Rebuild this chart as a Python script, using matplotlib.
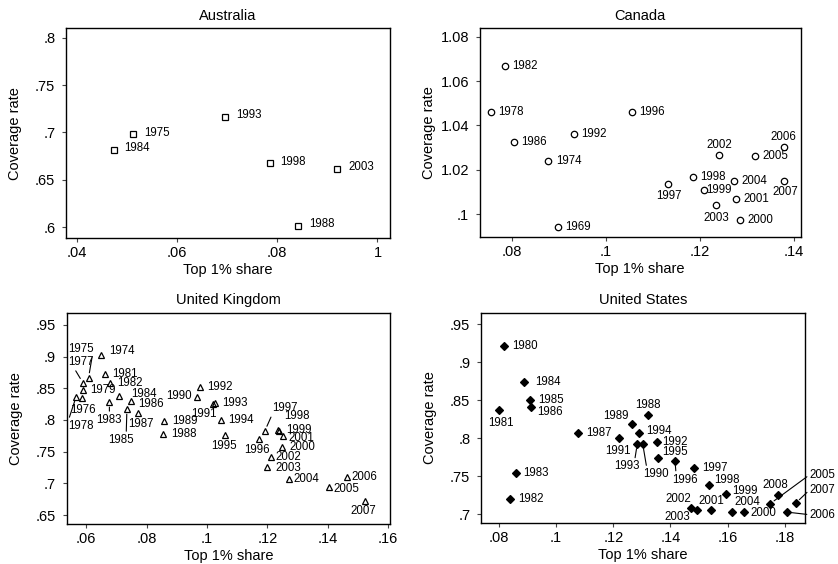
import matplotlib
matplotlib.use("Agg")
import matplotlib.pyplot as plt

plt.rcParams['font.family'] = ['Liberation Sans', 'DejaVu Sans']

# ---------------- data ----------------
aus_years = [1975, 1984, 1988, 1993, 1998, 2003]
aus_top1 = [0.0513, 0.0474, 0.0842, 0.0697, 0.0785, 0.0920]
aus_cov = [0.698, 0.682, 0.6017, 0.7167, 0.6675, 0.6615]

can_years = [1969, 1974, 1978, 1982, 1986, 1992, 1996, 1997, 1998, 1999,
             2000, 2001, 2002, 2003, 2004, 2005, 2006, 2007]
can_top1 = [0.0897, 0.0877, 0.0754, 0.0785, 0.0804, 0.0931, 0.1054, 0.1132, 0.1184, 0.1208,
            0.1284, 0.1277, 0.1241, 0.1234, 0.1272, 0.1317, 0.1378, 0.1379]
can_cov = [0.9944, 1.0240, 1.0461, 1.0669, 1.0326, 1.0360, 1.0461, 1.0138, 1.0168, 1.0110,
           0.9976, 1.0068, 1.0266, 1.0040, 1.0150, 1.0264, 1.0303, 1.0149]

uk_years = [1974, 1975, 1976, 1977, 1978, 1979, 1981, 1982, 1983, 1984, 1985, 1986, 1987,
            1988, 1989, 1990, 1991, 1992, 1993, 1994, 1995, 1996, 1997, 1998, 1999,
            2000, 2001, 2002, 2003, 2004, 2005, 2006, 2007]
uk_top1 = [0.0649, 0.0608, 0.0586, 0.0589, 0.0567, 0.0589, 0.0661, 0.0679, 0.0677, 0.0709,
           0.0735, 0.0748, 0.0771, 0.0856, 0.0858, 0.0968, 0.1021, 0.0977, 0.1025, 0.1046,
           0.1060, 0.1173, 0.1192, 0.1234, 0.1238, 0.1249, 0.1253, 0.1211, 0.1198, 0.1273,
           0.1404, 0.1462, 0.1523]
uk_cov = [0.9026, 0.8670, 0.8340, 0.8590, 0.8368, 0.8474, 0.8720, 0.8585, 0.8280, 0.8379,
          0.8169, 0.8305, 0.8106, 0.7774, 0.7984, 0.8368, 0.8255, 0.8526, 0.8265, 0.8000,
          0.7763, 0.7700, 0.7831, 0.7835, 0.7825, 0.7569, 0.7747, 0.7411, 0.7263, 0.7064,
          0.6937, 0.7095, 0.6726]

us_years = [1980, 1981, 1982, 1983, 1984, 1985, 1986, 1987, 1988, 1989, 1990, 1991, 1992,
            1993, 1994, 1995, 1996, 1997, 1998, 1999, 2000, 2001, 2002, 2003, 2004, 2005,
            2006, 2007, 2008]
us_top1 = [0.0818, 0.0801, 0.0840, 0.0858, 0.0889, 0.0910, 0.0913, 0.1077, 0.1320, 0.1264,
           0.1303, 0.1220, 0.1353, 0.1284, 0.1290, 0.1356, 0.1416, 0.1483, 0.1535, 0.1595,
           0.1659, 0.1543, 0.1471, 0.1494, 0.1614, 0.1749, 0.1807, 0.1839, 0.1775]
us_cov = [0.9218, 0.8376, 0.7197, 0.7547, 0.8745, 0.8504, 0.8416, 0.8066, 0.8307, 0.8186,
          0.7925, 0.8008, 0.7947, 0.7925, 0.8068, 0.7732, 0.7705, 0.7610, 0.7380, 0.7260,
          0.7026, 0.7047, 0.7080, 0.7057, 0.7026, 0.7136, 0.7026, 0.7145, 0.7254]

aus_xticks = [0.04, 0.06, 0.08, 0.10]
aus_xticklabels = ['.04', '.06', '.08', '1']
aus_yticks = [0.60, 0.65, 0.70, 0.75, 0.80]
aus_yticklabels = ['.6', '.65', '.7', '.75', '.8']

can_xticks = [0.08, 0.10, 0.12, 0.14]
can_xticklabels = ['.08', '.1', '.12', '.14']
can_yticks = [1.00, 1.02, 1.04, 1.06, 1.08]
can_yticklabels = ['.1', '1.02', '1.04', '1.06', '1.08']

uk_xticks = [0.06, 0.08, 0.10, 0.12, 0.14, 0.16]
uk_xticklabels = ['.06', '.08', '.1', '.12', '.14', '.16']
uk_yticks = [0.65, 0.70, 0.75, 0.80, 0.85, 0.90, 0.95]
uk_yticklabels = ['.65', '.7', '.75', '.8', '.85', '.9', '.95']

us_xticks = [0.08, 0.10, 0.12, 0.14, 0.16, 0.18]
us_xticklabels = ['.08', '.1', '.12', '.14', '.16', '.18']
us_yticks = [0.70, 0.75, 0.80, 0.85, 0.90, 0.95]
us_yticklabels = ['.7', '.75', '.8', '.85', '.9', '.95']

# ---------------- label placement (style) ----------------
# ('L', gap, dy) left aligned to the right of marker; ('R', gap, dy) to the left;
# ('C', dx, dy) centred at offset; optional 4th element: relpos for a leader line
aus_lab = {}
aus_default = ('L', 7.9, 1.2)

can_lab = {
    1997: ('C', 0.4, -8.9), 2002: ('C', 0.2, 7.4), 2003: ('C', 0.4, -9.4),
    2006: ('C', 0.0, 7.4), 2007: ('C', 0.7, -7.9), 1999: ('L', 1.8, 0.0),
}
can_default = ('L', 5.4, 0.0)

uk_lab = {
    1974: ('L', 6.2, 2.9),
    1975: ('C', -5.8, 20.7, (1.0, 0.4)),
    1977: ('C', -1.7, 14.8, (0.25, 0.0)),
    1978: ('C', 3.1, -21.1, (0.03, 1.0)),
    1976: ('C', 1.0, -8.4),
    1983: ('C', 0.0, -12.7, (0.5, 1.0)),
    1985: ('C', -4.2, -22.1, (0.7, 1.0)),
    1987: ('C', 2.2, -7.9),
    1984: ('L', 8.9, 1.4),
    1986: ('L', 5.5, -2.4),
    1990: ('R', 4.0, 0.5),
    1991: ('C', -6.5, -7.2),
    1995: ('C', -0.7, -7.9),
    1996: ('C', -1.4, -7.9),
    1997: ('C', 14.4, 16.1, (0.0, 0.0)),
    1998: ('C', 13.7, 10.1),
    1999: ('L', 5.0, 1.0),
    2001: ('L', 3.6, -1.7),
    2002: ('L', 3.1, 0.0),
    2003: ('L', 6.0, -1.2),
    2004: ('L', 2.9, 0.0),
    2005: ('L', 3.1, -1.4),
    2006: ('L', 3.6, 0.4),
    2007: ('C', -0.9, -7.2),
}
uk_default = ('L', 5.5, 0.0)

us_lab = {
    1981: ('C', 0.9, -9.4),
    1984: ('L', 7.9, 0.0),
    1986: ('L', 4.3, -4.0),
    1988: ('C', 0.4, 7.2),
    1989: ('C', -11.1, 6.0),
    1991: ('C', -1.1, -9.4),
    1993: ('C', -7.4, -16.3, (0.8, 1.0)),
    1990: ('C', 9.4, -21.8, (0.15, 1.0)),
    1992: ('L', 3.4, 0.0),
    1994: ('L', 5.3, 1.2),
    1995: ('L', 3.4, 4.5),
    1996: ('C', 7.2, -13.7, (0.15, 1.0)),
    1998: ('L', 3.8, 3.4),
    1999: ('L', 4.0, 2.6),
    2002: ('C', -8.9, 6.7),
    2003: ('C', -14.5, -5.3),
    2001: ('C', 0.0, 6.5),
    2004: ('C', 11.2, 7.2),
    2000: ('L', 4.1, -0.7),
    2008: ('C', -1.9, 7.2),
    2005: ('C', 37.8, 20.9, (0.0, 0.5)),
    2007: ('C', 19.3, 9.6, (0.0, 0.5)),
    2006: ('C', 25.8, -1.9, (0.0, 0.5)),
}
us_default = ('L', 5.5, 0.0)

LABEL_FS = 8.3
AX_FS = 10.5

fig = plt.figure(figsize=(8.38, 5.64), dpi=100)
fig.patch.set_facecolor('white')


def panel(rect, title, xs, ys, years, marker, ms, filled, xlim, ylim,
          xticks, xtl, yticks, ytl, labs, default):
    ax = fig.add_axes(rect)
    ax.plot(xs, ys, linestyle='none', marker=marker, markersize=ms,
            markerfacecolor='black' if filled else 'none',
            markeredgecolor='black', markeredgewidth=0.9, zorder=3)
    for x, y, yr in zip(xs, ys, years):
        spec = labs.get(yr, default)
        kind, a, b = spec[0], spec[1], spec[2]
        if kind == 'L':
            off, ha = (a, b), 'left'
        elif kind == 'R':
            off, ha = (-a, b), 'right'
        else:
            off, ha = (a, b), 'center'
        kw = {}
        if len(spec) > 3:
            kw['arrowprops'] = dict(arrowstyle='-', lw=0.8, color='black',
                                    shrinkA=0, shrinkB=3.5, relpos=spec[3])
        ax.annotate(str(yr), (x, y), xytext=off, textcoords='offset points',
                    ha=ha, va='center', fontsize=LABEL_FS, annotation_clip=False,
                    **kw)
    ax.set_xlim(*xlim)
    ax.set_ylim(*ylim)
    ax.set_xticks(xticks)
    ax.set_xticklabels(xtl)
    ax.set_yticks(yticks)
    ax.set_yticklabels(ytl)
    ax.tick_params(axis='both', direction='out', length=3.2, width=0.8,
                   labelsize=AX_FS, color='#444444')
    ax.tick_params(axis='x', pad=2.5)
    ax.tick_params(axis='y', pad=4.5)
    for s in ax.spines.values():
        s.set_linewidth(1.0)
        s.set_color('black')
    ax.set_title(title, fontsize=AX_FS, pad=6)
    ax.set_xlabel('Top 1% share', fontsize=AX_FS, labelpad=2)
    ax.set_ylabel('Coverage rate', fontsize=AX_FS)
    ax.yaxis.set_label_coords(-0.136, 0.5)
    return ax


panel([66 / 838, 1 - 238.3 / 564, 324 / 838, 210 / 564], 'Australia',
      aus_top1, aus_cov, aus_years, 's', 4.6, False,
      (0.0379, 0.1025), (0.5884, 0.8099),
      aus_xticks, aus_xticklabels, aus_yticks, aus_yticklabels, aus_lab, aus_default)

panel([479.7 / 838, 1 - 237.3 / 564, 321 / 838, 209 / 564], 'Canada',
      can_top1, can_cov, can_years, 'o', 4.6, False,
      (0.0731, 0.1414), (0.9896, 1.0838),
      can_xticks, can_xticklabels, can_yticks, can_yticklabels, can_lab, can_default)

panel([66.5 / 838, 1 - 524 / 564, 323.5 / 838, 211.3 / 564], 'United Kingdom',
      uk_top1, uk_cov, uk_years, '^', 5.0, False,
      (0.0535, 0.1606), (0.6358, 0.9694),
      uk_xticks, uk_xticklabels, uk_yticks, uk_yticklabels, uk_lab, uk_default)

panel([481 / 838, 1 - 523.3 / 564, 323.7 / 838, 210.6 / 564], 'United States',
      us_top1, us_cov, us_years, 'D', 3.9, True,
      (0.0737, 0.1870), (0.6878, 0.9653),
      us_xticks, us_xticklabels, us_yticks, us_yticklabels, us_lab, us_default)

fig.savefig('out.png', dpi=100, facecolor='white')
